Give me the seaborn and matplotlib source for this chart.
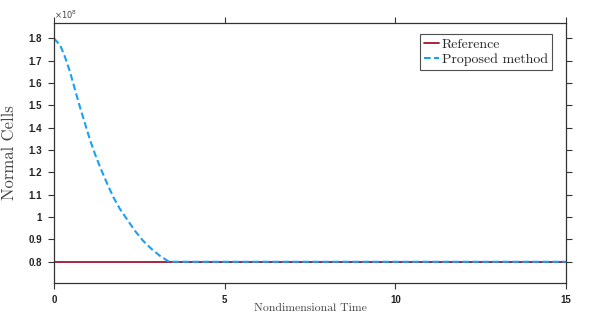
import matplotlib
matplotlib.use("Agg")
import pandas as pd
import seaborn as sns
from matplotlib import pyplot as plt
from matplotlib.ticker import FuncFormatter

# values (cells)
ref_time = [0, 15]
ref_cells = [0.8e8, 0.8e8]

prop_time = [0, 0.18, 0.32, 0.47, 0.62, 0.76, 0.91, 1.06, 1.2, 1.35, 1.54,
             1.74, 1.93, 2.13, 2.37, 2.61, 2.86, 3.1, 3.37, 5, 10, 15]
prop_cells = [1.8e8, 1.77e8, 1.718e8, 1.65e8, 1.568e8, 1.493e8, 1.418e8,
              1.343e8, 1.283e8, 1.224e8, 1.156e8, 1.089e8, 1.037e8, 0.992e8,
              0.939e8, 0.894e8, 0.857e8, 0.827e8, 0.8e8, 0.8e8, 0.8e8, 0.8e8]

x_ticks = [0, 5, 10, 15]
y_ticks = [0.8e8, 0.9e8, 1.0e8, 1.1e8, 1.2e8, 1.3e8, 1.4e8, 1.5e8, 1.6e8, 1.7e8, 1.8e8]

sns.set_style("ticks")
serif = ["cmr10", "DejaVu Serif"]
sans = ["Liberation Sans", "DejaVu Sans"]
plt.rcParams["axes.formatter.use_mathtext"] = True

fig = plt.figure(figsize=(5.92, 3.15), dpi=100)
ax = fig.add_axes([0.0912, 0.1016, 0.865, 0.826])

ref_df = pd.DataFrame({"t": ref_time, "n": ref_cells})
prop_df = pd.DataFrame({"t": prop_time, "n": prop_cells})

sns.lineplot(data=ref_df, x="t", y="n", ax=ax, color="#a2142f", linewidth=1.3,
             label="Reference")
sns.lineplot(data=prop_df, x="t", y="n", ax=ax, color="#1aa0f5", linewidth=1.5,
             linestyle=(0, (3.2, 1.6)), label="Proposed method")

ax.set_xlim(0, 15)
ax.set_ylim(0.705e8, 1.87e8)
ax.set_xticks(x_ticks)
ax.set_yticks(y_ticks)
ax.yaxis.set_major_formatter(FuncFormatter(lambda v, p: "{:g}".format(round(v / 1e8, 2))))
ax.xaxis.set_major_formatter(FuncFormatter(lambda v, p: "{:g}".format(v)))

for s in ax.spines.values():
    s.set_visible(True)
    s.set_color("#333333")
    s.set_linewidth(0.9)
ax.tick_params(direction="out", length=4.5, width=0.8, color="#333333",
               top=True, right=True, labelsize=7)
ax.tick_params(axis="y", pad=4)
ax.tick_params(axis="x", pad=4)
for lab in ax.get_xticklabels() + ax.get_yticklabels():
    lab.set_family(sans)
    lab.set_fontweight("bold")
    lab.set_color("#222222")

ax.text(0.0, 1.008, r"$\times10^{8}$", transform=ax.transAxes, fontsize=6,
        family=sans, color="#444444", va="bottom", ha="left")

ax.set_xlabel("Nondimensional Time", family=serif, fontsize=8.5, color="#444444", labelpad=-1)
ax.set_ylabel("Normal Cells", family=serif, fontsize=12, color="#444444", labelpad=8)

leg = ax.legend(loc="upper right", bbox_to_anchor=(0.973, 0.958), frameon=True,
                fancybox=False, edgecolor="#222222", fontsize=10, handlelength=1.1,
                handletextpad=0.2, borderpad=0.3, labelspacing=0.2, borderaxespad=0)
leg.get_frame().set_linewidth(0.8)
for t in leg.get_texts():
    t.set_family(serif)

fig.savefig("out.png", dpi=100)
